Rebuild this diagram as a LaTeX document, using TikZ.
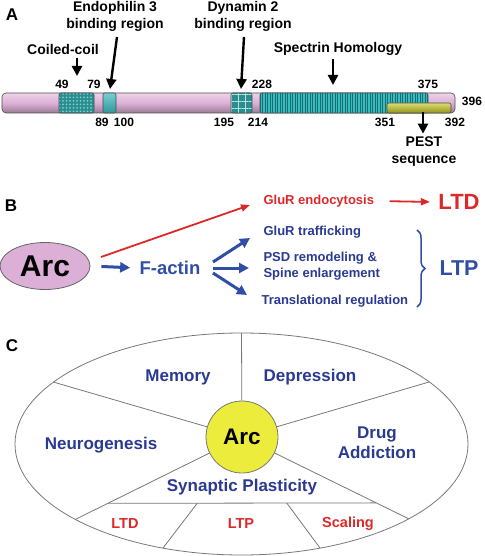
\documentclass[tikz,border=0pt]{standalone}
\usepackage{fontspec}
\setmainfont{Liberation Sans}
\usetikzlibrary{arrows.meta,patterns.meta,shapes.geometric,decorations.pathreplacing,calc}

\definecolor{arcpink}{RGB}{220,176,214}
\definecolor{domteal}{RGB}{58,188,190}
\definecolor{darkteal}{RGB}{20,110,115}
\definecolor{pestyel}{RGB}{196,196,28}
\definecolor{txtblue}{RGB}{42,58,145}
\definecolor{arrowblue}{RGB}{48,78,165}
\definecolor{txtred}{RGB}{222,40,40}
\definecolor{linegray}{RGB}{120,120,120}
\definecolor{arcyellow}{RGB}{236,236,60}

\begin{document}
\begin{tikzpicture}[
      x = 1pt,
      y = -1pt,
      panel/.style = {font=\fontsize{17}{17}\selectfont\bfseries},
      lbl/.style = {font=\fontsize{14}{17}\selectfont\bfseries, align=center},
      num/.style = {font=\fontsize{12}{14}\selectfont\bfseries},
      dom/.style = {draw=black!70, line width=0.6pt, rounded corners=2},
      domarrow/.style = {-{Triangle[length=10pt,width=10pt]}, line width=2.4pt},
      btxt/.style = {font=\fontsize{13}{16}\selectfont\bfseries, text=txtblue, align=left, anchor=west},
      barrow/.style = {-{Triangle[length=10pt,width=10pt]}, line width=3pt, draw=arrowblue},
      rarrow/.style = {-{Triangle[length=9pt,width=7pt]}, line width=1.8pt, draw=txtred},
      sector/.style = {draw=linegray, line width=0.8pt},
      ctxt/.style = {font=\fontsize{17}{20}\selectfont\bfseries, text=txtblue, align=center},
      rtxt/.style = {font=\fontsize{14.5}{17}\selectfont\bfseries, text=txtred},
  ]

  \useasboundingbox (0,0) rectangle (484,556);

  % panel A: protein map
  \node[panel] (pa) at (12,15) {A};

  \draw [dom, rounded corners=4, top color=arcpink!55!white, bottom color=arcpink!70!black,
         middle color=arcpink] (2,93) rectangle (455,113);
  \draw [dom, preaction={fill=domteal!75!black},
         pattern={Dots[distance=3.5pt,radius=1pt]}, pattern color=domteal!70!white] (59,93) rectangle (94,113);
  \draw [dom, top color=domteal!70!white, bottom color=domteal!80!black] (103,93) rectangle (116,113);
  \draw [dom, preaction={fill=domteal!75!black},
         pattern={Hatch[angle=0,distance=7pt,line width=0.6pt]}, pattern color=domteal!40!white] (231,93) rectangle (252,113);
  \draw [dom, preaction={fill=domteal},
         pattern={Lines[angle=90,distance=2.5pt,line width=0.7pt]}, pattern color=darkteal] (260,93) rectangle (428,113);
  \draw [dom, top color=pestyel!60!white, bottom color=pestyel!75!black] (387,103) rectangle (451,113);

  \node[num] (n49) at (62,84) {49};
  \node[num] (n79) at (94,84) {79};
  \node[num] (n89) at (102,122) {89};
  \node[num] (n100) at (124,122) {100};
  \node[num] (n195) at (224,122) {195};
  \node[num] (n214) at (258,122) {214};
  \node[num] (n228) at (262,84) {228};
  \node[num] (n375) at (428,84) {375};
  \node[num] (n396) at (472,101) {396};
  \node[num] (n351) at (385,122) {351};
  \node[num] (n392) at (455,122) {392};

  \node[lbl] (cclab) at (63,49) {Coiled-coil};
  \node[lbl] (endolab) at (115,16) {Endophilin 3\\binding region};
  \node[lbl] (dynlab) at (243,16) {Dynamin 2\\binding region};
  \node[lbl] (speclab) at (338,49) {Spectrin Homology};
  \node[lbl] (pestlab) at (424,152) {PEST\\sequence};

  \coordinate (ccTip) at (77,76);
  \coordinate (endoTail) at (117,37);
  \coordinate (endoTip) at (110,89);
  \coordinate (dynTail) at (244,37);
  \coordinate (dynTip) at (241,89);
  \coordinate (specTip) at (333,85);
  \coordinate (pestTail) at (423,112);

  \draw [domarrow] (cclab.south -| ccTip) -- (ccTip);
  \draw [domarrow] (endoTail) -- (endoTip);
  \draw [domarrow] (dynTail) -- (dynTip);
  \draw [domarrow] (speclab.south -| specTip) -- (specTip);
  \draw [domarrow] (pestTail) -- (pestlab.north -| pestTail);

  % panel B: Arc and F-actin
  \node[panel] (pb) at (11,206) {B};

  \node[ellipse, draw=black!60, line width=0.8pt, fill=arcpink, minimum width=90, minimum height=47,
        font=\fontsize{30}{30}\selectfont\bfseries] (arcB) at (45,266) {Arc};
  \node[font=\fontsize{18.5}{20}\selectfont\bfseries, text=arrowblue] (factin) at (170,268) {F-actin};

  \node[btxt, text=txtred] (endo) at (260,201) {GluR endocytosis};
  \node[btxt] (traf) at (260,232) {GluR trafficking};
  \node[btxt] (psd) at (260,266) {PSD remodeling \&\\Spine enlargement};
  \node[btxt] (transl) at (258,301) {Translational regulation};
  \node[font=\fontsize{22}{22}\selectfont\bfseries, text=txtred] (ltd) at (459,202) {LTD};
  \node[font=\fontsize{21.5}{22}\selectfont\bfseries, text=arrowblue] (ltp) at (459,268) {LTP};

  \coordinate (redTail) at (101,257);
  \coordinate (redTip) at (250,205);
  \coordinate (fa1) at (213,262);
  \coordinate (fa2) at (213,268);
  \coordinate (fa3) at (213,273);
  \coordinate (t1) at (250,238);
  \coordinate (t2) at (249,268);
  \coordinate (t3) at (247,295);

  \draw [barrow, shorten <=11pt, shorten >=6pt] (arcB.east) -- (factin.west);
  \draw [rarrow] (redTail) -- (redTip);
  \draw [rarrow, shorten <=12pt, shorten >=5pt] (endo.east) -- (ltd.west);
  \draw [barrow] (fa1) -- (t1);
  \draw [barrow] (fa2) -- (t2);
  \draw [barrow] (fa3) -- (t3);
  \draw [arrowblue, line width=1.5pt, decorate, decoration={brace, amplitude=8pt}] (417,230) -- (417,307);

  % panel C: Arc functions
  \node[panel] (pc) at (12,346) {C};

  \coordinate (ellC) at (241.5,444);
  \draw [sector] (ellC) ellipse [x radius=226.5, y radius=111];

  \coordinate (e1) at ($(ellC)+(213.9:226.5 and 111)$);
  \coordinate (e2) at ($(ellC)+(326:226.5 and 111)$);
  \coordinate (e3) at ($(ellC)+(270:226.5 and 111)$);
  \coordinate (e4) at ($(ellC)+(137.2:226.5 and 111)$);
  \coordinate (e5) at ($(ellC)+(42.4:226.5 and 111)$);
  \coordinate (e6) at ($(ellC)+(110.3:226.5 and 111)$);
  \coordinate (e7) at ($(ellC)+(69.7:226.5 and 111)$);

  \node[circle, draw=linegray, line width=0.8pt, fill=arcyellow, minimum size=72,
        font=\fontsize{22.5}{24}\selectfont\bfseries] (arcC) at (242,437) {Arc};

  \coordinate (h1) at ($(arcC.center)!0.805!(e4)$);
  \coordinate (h2) at ($(arcC.center)!0.805!(e5)$);

  \draw [sector] (arcC) -- (e1);
  \draw [sector] (arcC) -- (e2);
  \draw [sector] (arcC) -- (e3);
  \draw [sector] (arcC) -- (e4);
  \draw [sector] (arcC) -- (e5);
  \draw [sector] (h1) -- (h2);
  \draw [sector] ($(h1)!1/3!(h2)$) -- (e6);
  \draw [sector] ($(h1)!2/3!(h2)$) -- (e7);

  \node[ctxt] (memory) at (178,377) {Memory};
  \node[ctxt] (depress) at (310,377) {Depression};
  \node[ctxt] (neuro) at (101,445) {Neurogenesis};
  \node[ctxt] (drug) at (377,443) {Drug\\Addiction};
  \node[ctxt] (synpl) at (242,487) {Synaptic Plasticity};
  \node[rtxt] (ltdC) at (125,524) {LTD};
  \node[rtxt] (ltpC) at (241,524) {LTP};
  \node[rtxt] (scaling) at (348,524) {Scaling};

\end{tikzpicture}
\end{document}
